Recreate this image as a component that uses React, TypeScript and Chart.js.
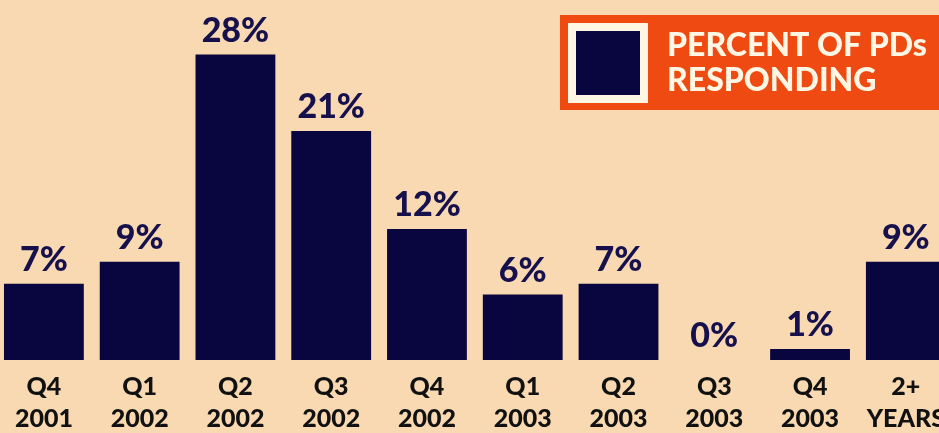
import React, { useEffect, useRef } from "react";
import { Chart, registerables } from "chart.js";

Chart.register(...registerables);

const categories: string[][] = [
  ["Q4", "2001"],
  ["Q1", "2002"],
  ["Q2", "2002"],
  ["Q3", "2002"],
  ["Q4", "2002"],
  ["Q1", "2003"],
  ["Q2", "2003"],
  ["Q3", "2003"],
  ["Q4", "2003"],
  ["2+", "YEARS"],
];
const percentResponding: number[] = [7, 9, 28, 21, 12, 6, 7, 0, 1, 9];
const seriesLabel: string[] = ["PERCENT OF PDs", "RESPONDING"];

const BG = "#f8d9b2";
const NAVY = "#09053e";
const LABEL_NAVY = "#16104c";
const ORANGE = "#ef4a12";
const CREAM = "#fff7e4";
const FONT = "Lato, 'Open Sans', sans-serif";

const valueLabels = {
  id: "valueLabels",
  afterDatasetsDraw(chart: any) {
    const ctx = chart.ctx;
    const meta = chart.getDatasetMeta(0);
    ctx.save();
    ctx.fillStyle = LABEL_NAVY;
    ctx.font = `900 34px ${FONT}`;
    ctx.textAlign = "center";
    ctx.textBaseline = "alphabetic";
    meta.data.forEach((bar: any, i: number) => {
      const v = chart.data.datasets[0].data[i];
      ctx.fillText(`${v}%`, bar.x, bar.y - 13);
    });
    ctx.restore();
  },
};

const boxLegend = {
  id: "boxLegend",
  afterDraw(chart: any) {
    const ctx = chart.ctx;
    const ox = 4; // canvas offset relative to page
    ctx.save();
    ctx.fillStyle = ORANGE;
    ctx.fillRect(560 + ox, 15, 400, 95);
    ctx.fillStyle = CREAM;
    ctx.fillRect(568 + ox, 23, 80, 80);
    ctx.fillStyle = chart.data.datasets[0].backgroundColor;
    ctx.fillRect(576 + ox, 31, 64, 64);
    ctx.fillStyle = CREAM;
    ctx.font = `900 32px ${FONT}`;
    ctx.textAlign = "left";
    ctx.textBaseline = "alphabetic";
    seriesLabel.forEach((t, i) => {
      ctx.fillText(t, 667 + ox, 56 + i * 35);
    });
    ctx.restore();
  },
};

export default function App() {
  const ref = useRef<HTMLCanvasElement | null>(null);
  useEffect(() => {
    if (!ref.current) return;
    const chart = new Chart(ref.current, {
      type: "bar",
      data: {
        labels: categories,
        datasets: [
          {
            label: seriesLabel.join(" "),
            data: percentResponding,
            backgroundColor: NAVY,
            borderWidth: 0,
            categoryPercentage: 1,
            barPercentage: 80 / 96,
          },
        ],
      },
      options: {
        animation: false,
        responsive: false,
        maintainAspectRatio: false,
        layout: { padding: { top: 0, bottom: 0, left: 0, right: 0 } },
        plugins: {
          legend: { display: false },
          tooltip: { enabled: false },
        },
        scales: {
          x: {
            grid: { display: false, drawTicks: false },
            border: { display: false },
            ticks: {
              color: "#111111",
              font: { family: FONT, size: 25, weight: "900", lineHeight: 1.28 },
              padding: 11,
              maxRotation: 0,
              autoSkip: false,
            },
            afterFit: (s: any) => {
              s.height = 73;
            },
          },
          y: {
            display: false,
            min: 0,
            max: 33,
          },
        },
      },
      plugins: [valueLabels, boxLegend],
    });
    return () => chart.destroy();
  }, []);
  return (
    <div
      style={{
        position: "fixed",
        top: 0,
        left: 0,
        width: 939,
        height: 433,
        overflow: "hidden",
        background: BG,
      }}
    >
      <canvas
        ref={ref}
        width={960}
        height={433}
        style={{ position: "absolute", left: -4, top: 0, width: 960, height: 433 }}
      />
    </div>
  );
}
